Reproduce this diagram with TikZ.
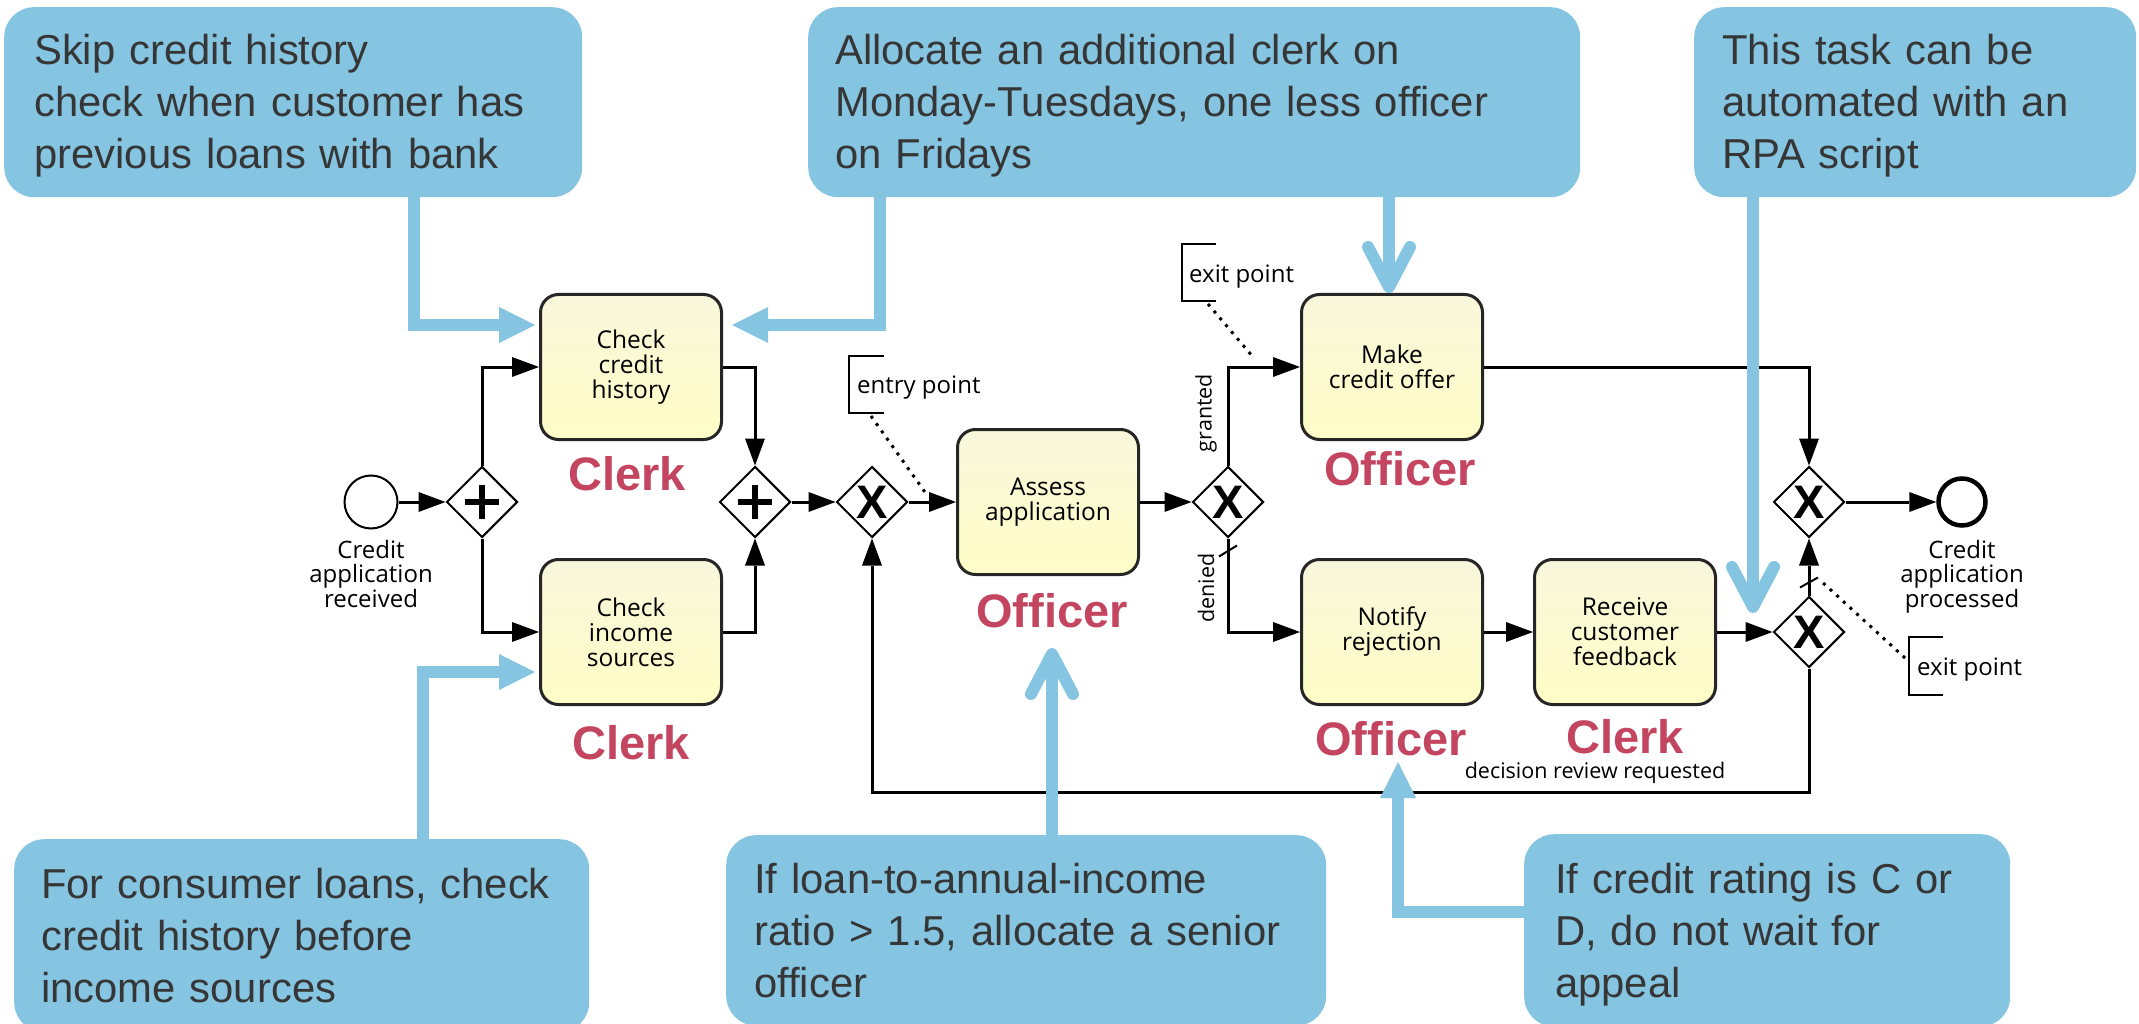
\documentclass[tikz,border=0pt]{standalone}
\usepackage{fontspec}
\setmainfont{Open Sans}
\newfontfamily\calloutfont{Liberation Sans}
\usetikzlibrary{arrows.meta,shapes.geometric}

\definecolor{callblue}{HTML}{85C5E2}
\definecolor{calltext}{HTML}{363636}
\definecolor{rolered}{HTML}{C4455F}
\definecolor{taskline}{HTML}{262626}
\definecolor{tasktop}{HTML}{F9F7DC}
\definecolor{taskbot}{HTML}{FFFDC6}

\newcommand\firstline{\rule{0pt}{38.5pt}}
\newcommand\lastline{\rule[-9pt]{0pt}{9pt}}

\begin{document}
\begin{tikzpicture}[x=1pt,y=-1pt,
  task/.style={rectangle, rounded corners=18pt, draw=taskline, line width=3pt,
    top color=tasktop, bottom color=taskbot, minimum width=181pt, minimum height=145pt,
    inner sep=0pt, align=center, font=\fontsize{24.5}{25}\selectfont},
  gateway/.style={diamond, draw=black, line width=2pt, fill=white, minimum width=71pt,
    minimum height=71pt, inner sep=0pt, font=\calloutfont\bfseries\fontsize{47}{47}\selectfont},
  plusgw/.style={gateway, path picture={
    \draw[line width=5.5pt] ([xshift=-17pt]path picture bounding box.center) -- ([xshift=17pt]path picture bounding box.center);
    \draw[line width=5.5pt] ([yshift=-17pt]path picture bounding box.center) -- ([yshift=17pt]path picture bounding box.center);}},
  xorgw/.style={gateway},
  startev/.style={circle, draw=black, line width=2pt, fill=white, minimum size=53pt, inner sep=0pt},
  endev/.style={circle, draw=black, line width=4.5pt, fill=white, minimum size=47pt, inner sep=0pt},
  evlabel/.style={align=center, inner sep=0pt, font=\fontsize{24}{24.5}\selectfont},
  flow/.style={line width=3pt, draw=black, -{Triangle[length=27pt,width=20pt,line width=0pt]}},
  flowlbl/.style={inner sep=0pt, font=\fontsize{21.5}{22}\selectfont},
  annot/.style={inner sep=0pt, anchor=base west, font=\fontsize{24}{24}\selectfont},
  bracket/.style={line width=2.5pt, draw=black},
  assoc/.style={line width=3pt, draw=black, dash pattern=on 3pt off 6pt},
  defmark/.style={line width=2pt, draw=black},
  role/.style={text=rolered, inner sep=0pt, anchor=base,
    font=\calloutfont\bfseries\fontsize{47}{47}\selectfont},
  callout/.style={rectangle, rounded corners=30pt, fill=callblue, text=calltext, align=left,
    anchor=north west, inner ysep=0pt, font=\calloutfont\fontsize{41.8}{52}\selectfont},
  bluelink/.style={draw=callblue, line width=12pt},
  bluehead/.style={-{Triangle[length=36pt,width=36pt,line width=0pt]}},
  bluebarb/.style={-{Straight Barb[length=40pt,width=42pt,round]}}
]
\useasboundingbox (0,0) rectangle (2139,1024);
\clip (0,0) rectangle (2139,1024);
\fill[white] (0,0) rectangle (2139,1024);

% ---- process flow ----
\node[startev] (start) at (371,502) {};
\node[evlabel, anchor=north] (startlbl) at (371,540) {Credit\\application\\received};
\node[plusgw] (g1) at (482,502) {};
\node[task] (t1) at (631,367) {Check\\credit\\history};
\node[task] (t2) at (631,632) {Check\\income\\sources};
\node[plusgw] (g2) at (755,502) {};
\node[xorgw] (x1) at (872,502) {X};
\node[task] (t3) at (1048,502) {Assess\\application};
\node[xorgw] (x2) at (1228,502) {X};
\node[task] (t4) at (1392,367) {Make\\credit offer};
\node[task] (t5) at (1392,632) {Notify\\rejection};
\node[task] (t6) at (1625,632) {Receive\\customer\\feedback};
\node[xorgw] (x3) at (1809,502) {X};
\node[xorgw] (x4) at (1809,632) {X};
\node[endev] (finish) at (1962,502) {};
\node[evlabel, anchor=north] (finishlbl) at (1962,540) {Credit\\application\\processed};

\draw[flow] (start) -- (g1);
\draw[flow] (g1.north) |- (t1.west);
\draw[flow] (g1.south) |- (t2.west);
\draw[flow] (t1.east) -| (g2.north);
\draw[flow] (t2.east) -| (g2.south);
\draw[flow] (g2) -- (x1);
\draw[flow] (x1) -- (t3);
\draw[flow] (t3) -- (x2);
\draw[flow] (x2.north) |- (t4.west);
\draw[flow] (x2.south) |- (t5.west);
\draw[flow] (t5) -- (t6);
\draw[flow] (t6) -- (x4);
\draw[flow] (t4.east) -| (x3.north);
\draw[flow] (x4.north) -- (x3.south);
\draw[flow] (x3) -- (finish);
\draw[flow] (x4.south) -- ++(0,124) -| (x1.south);

% default-flow markers
\draw[defmark] ([xshift=-9pt,yshift=-18pt]x2.south) -- ([xshift=9pt,yshift=-7pt]x2.south);
\draw[defmark] ([xshift=-9pt,yshift=8pt]x4.north) -- ([xshift=9pt,yshift=18pt]x4.north);

% flow labels
\node[flowlbl, rotate=90] (granted) at (1206,413) {granted};
\node[flowlbl, rotate=90] (denied) at (1206,588) {denied};
\node[flowlbl, anchor=base] (review) at (1595,778) {decision review requested};

% text annotations
\draw[bracket] (884,356) -- (849,356) -- (849,413) -- (884,413);
\node[annot] (entry) at (857,393) {entry point};
\coordinate (entryA) at (871,416);
\coordinate (entryB) at (927,495);
\draw[assoc] (entryA) -- (entryB);

\draw[bracket] (1216,244) -- (1182,244) -- (1182,301) -- (1216,301);
\node[annot] (exitA) at (1189,283) {exit point};
\coordinate (exitA1) at (1208,304);
\coordinate (exitA2) at (1253,357);
\draw[assoc] (exitA1) -- (exitA2);

\draw[bracket] (1943,637) -- (1909,637) -- (1909,695) -- (1943,695);
\node[annot] (exitB) at (1917,675) {exit point};
\coordinate (exitB1) at (1905,658);
\coordinate (exitB2) at (1821,581);
\draw[assoc] (exitB1) -- (exitB2);

% performers
\node[role] (r1) at (627,490) {Clerk};
\node[role] (r2) at (631,759) {Clerk};
\node[role] (r3) at (1052,627) {Officer};
\node[role] (r4) at (1400,485) {Officer};
\node[role] (r5) at (1391,755) {Officer};
\node[role] (r6) at (1625,753) {Clerk};

% ---- improvement notes ----
\node[callout, inner xsep=30pt, text width=518pt, minimum height=190pt] (c1) at (4,7)
  {\firstline Skip credit history\\check when customer has\\\lastline previous loans with bank};
\node[callout, inner xsep=27pt, text width=718pt, minimum height=190pt] (c2) at (808,7)
  {\firstline Allocate an additional clerk on\\Monday-Tuesdays, one less officer\\\lastline on Fridays};
\node[callout, inner xsep=28pt, text width=386pt, minimum height=190pt] (c3) at (1694,7)
  {\firstline This task can be\\automated with an\\\lastline RPA script};
\node[callout, inner xsep=27pt, text width=521pt, minimum height=193pt] (c4) at (14,839)
  {\firstline For consumer loans, check\\credit history before\\\lastline income sources};
\node[callout, inner xsep=28pt, text width=544pt, minimum height=190.5pt] (c5) at (726,835)
  {\firstline If loan-to-annual-income\\ratio > 1.5, allocate a senior\\\lastline officer};
\node[callout, inner xsep=31pt, text width=424pt, minimum height=192.5pt] (c6) at (1524,834)
  {\firstline If credit rating is C or\\D, do not wait for\\\lastline appeal};

\coordinate (f1) at ([xshift=410pt]c1.south west);
\coordinate (f2) at ([xshift=72pt]c2.south west);
\coordinate (f3) at ([xshift=581pt]c2.south west);
\coordinate (f4) at ([xshift=59pt]c3.south west);
\coordinate (f5) at ([xshift=409pt]c4.north west);
\coordinate (f6) at ([xshift=326pt]c5.north west);
\coordinate (f7) at ([yshift=18pt]c6.west);

\draw[bluelink, bluehead] (f1) |- ([xshift=-4pt,yshift=42pt]t1.west);
\draw[bluelink, bluehead] (f2) |- ([xshift=9pt,yshift=42pt]t1.east);
\draw[bluelink, bluebarb] (f3) -- (f3 |- t4.north);
\draw[bluelink, bluebarb, shorten >=19pt] (f4) -- (f4 |- x4.west);
\draw[bluelink, bluehead] (f5) |- ([xshift=-4pt,yshift=-40pt]t2.west);
\draw[bluelink, bluebarb, shorten >=21pt] (f6) -- (f6 |- r3.base);
\draw[bluelink, bluehead] (f7) -| ([xshift=7pt,yshift=-7pt]r5.base);
\end{tikzpicture}
\end{document}
